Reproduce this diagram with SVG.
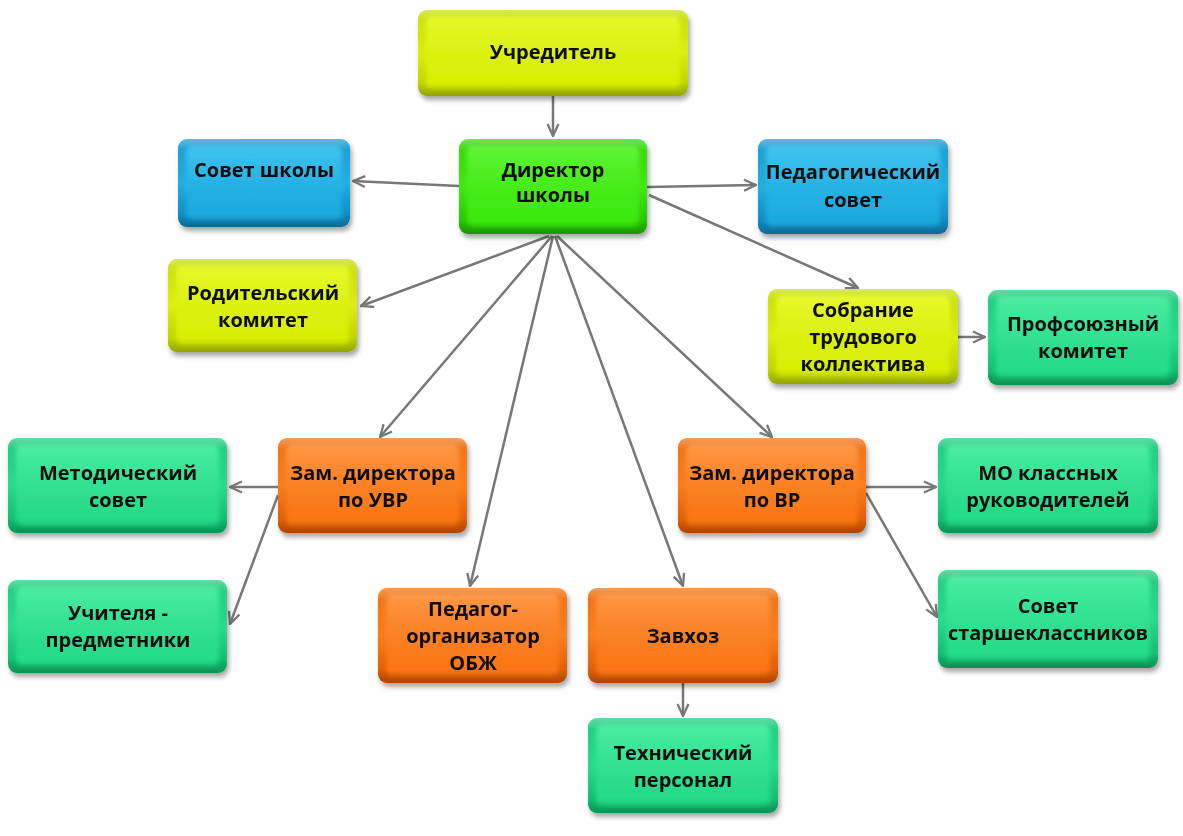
<svg xmlns="http://www.w3.org/2000/svg" width="1183" height="836" viewBox="0 0 1183 836">
<style>
.t{font-family:"Open Sans","Liberation Sans",sans-serif;font-weight:700;font-size:20px;fill:#111;text-anchor:middle}
.c line{stroke:#777;stroke-width:2.5;fill:none;marker-end:url(#ah)}
.hl{fill:url(#hl)}
.f{filter:url(#soft)}
</style>
<defs>
<marker id="ah" viewBox="0 0 14 14" refX="13" refY="7" markerWidth="14" markerHeight="14" markerUnits="userSpaceOnUse" orient="auto">
<path d="M1,1.5 L13,7 L1,12.5" fill="none" stroke="#777" stroke-width="2.3"/>
</marker>
<filter id="sh" x="-10%" y="-10%" width="125%" height="130%">
<feDropShadow dx="2" dy="4" stdDeviation="2.5" flood-color="#000" flood-opacity="0.35"/>
</filter>
<filter id="soft" x="-5%" y="-5%" width="110%" height="110%">
<feGaussianBlur stdDeviation="2"/>
</filter>
<linearGradient id="hl" x1="0" y1="0" x2="0" y2="1">
<stop offset="0" stop-color="#fff" stop-opacity="0.35"/>
<stop offset="0.12" stop-color="#fff" stop-opacity="0.05"/>
<stop offset="0.85" stop-color="#000" stop-opacity="0"/>
<stop offset="1" stop-color="#000" stop-opacity="0.18"/>
</linearGradient>
<linearGradient id="yel" x1="0" y1="0" x2="0" y2="1"><stop offset="0" stop-color="#c4dc00"/><stop offset="0.5" stop-color="#dcf20a"/><stop offset="1" stop-color="#b2c800"/></linearGradient>
<linearGradient id="yelI" x1="0" y1="0" x2="0" y2="1"><stop offset="0" stop-color="#e6fa20"/><stop offset="1" stop-color="#d6ee00"/></linearGradient>
<linearGradient id="grn" x1="0" y1="0" x2="0" y2="1"><stop offset="0" stop-color="#2ad400"/><stop offset="0.5" stop-color="#40ec10"/><stop offset="1" stop-color="#1cb800"/></linearGradient>
<linearGradient id="grnI" x1="0" y1="0" x2="0" y2="1"><stop offset="0" stop-color="#55f52a"/><stop offset="1" stop-color="#38e80a"/></linearGradient>
<linearGradient id="blu" x1="0" y1="0" x2="0" y2="1"><stop offset="0" stop-color="#1096cc"/><stop offset="0.5" stop-color="#20b0e4"/><stop offset="1" stop-color="#0a80b8"/></linearGradient>
<linearGradient id="bluI" x1="0" y1="0" x2="0" y2="1"><stop offset="0" stop-color="#34c0ee"/><stop offset="1" stop-color="#1aa8de"/></linearGradient>
<linearGradient id="org" x1="0" y1="0" x2="0" y2="1"><stop offset="0" stop-color="#ee6a08"/><stop offset="0.5" stop-color="#ff7e1a"/><stop offset="1" stop-color="#d45400"/></linearGradient>
<linearGradient id="orgI" x1="0" y1="0" x2="0" y2="1"><stop offset="0" stop-color="#ff9038"/><stop offset="1" stop-color="#fb7410"/></linearGradient>
<linearGradient id="tea" x1="0" y1="0" x2="0" y2="1"><stop offset="0" stop-color="#14c878"/><stop offset="0.5" stop-color="#28de8c"/><stop offset="1" stop-color="#0cb066"/></linearGradient>
<linearGradient id="teaI" x1="0" y1="0" x2="0" y2="1"><stop offset="0" stop-color="#40ec9e"/><stop offset="1" stop-color="#22da86"/></linearGradient>
</defs>
<rect width="1183" height="836" fill="#fff"/>

<g class="c" id="connectors">
<line x1="553" y1="96" x2="553" y2="136"/>
<line x1="459" y1="186" x2="353" y2="181"/>
<line x1="647" y1="187" x2="756" y2="185"/>
<line x1="549" y1="236" x2="361" y2="306"/>
<line x1="649" y1="195" x2="858" y2="288"/>
<line x1="552" y1="236" x2="380" y2="437"/>
<line x1="553" y1="236" x2="470" y2="586"/>
<line x1="555" y1="236" x2="683" y2="586"/>
<line x1="557" y1="236" x2="772" y2="437"/>
<line x1="958" y1="337" x2="985" y2="337"/>
<line x1="866" y1="487" x2="936" y2="487"/>
<line x1="866" y1="493" x2="937" y2="617"/>
<line x1="278" y1="487" x2="230" y2="487"/>
<line x1="278" y1="495" x2="230" y2="624"/>
<line x1="683" y1="683" x2="683" y2="716"/>
</g>

<g id="n-uchreditel" filter="url(#sh)"><rect x="418" y="10" width="270" height="86" rx="9" fill="url(#yel)"/><rect class="f" x="426" y="17" width="254" height="72" rx="6" fill="url(#yelI)"/><rect x="418" y="10" width="270" height="86" rx="9" class="hl"/><text class="t" x="553" y="59">Учредитель</text></g>

<g id="n-director" filter="url(#sh)"><rect x="459" y="139" width="188" height="95" rx="9" fill="url(#grn)"/><rect class="f" x="467" y="146" width="172" height="81" rx="6" fill="url(#grnI)"/><rect x="459" y="139" width="188" height="95" rx="9" class="hl"/><text class="t" x="553" y="177">Директор</text><text class="t" x="553" y="202">школы</text></g>

<g id="n-sovet-shkoly" filter="url(#sh)"><rect x="178" y="139" width="172" height="88" rx="9" fill="url(#blu)"/><rect class="f" x="186" y="146" width="156" height="74" rx="6" fill="url(#bluI)"/><rect x="178" y="139" width="172" height="88" rx="9" class="hl"/><text class="t" x="264" y="177">Совет школы</text></g>

<g id="n-ped-sovet" filter="url(#sh)"><rect x="758" y="139" width="190" height="95" rx="9" fill="url(#blu)"/><rect class="f" x="766" y="146" width="174" height="81" rx="6" fill="url(#bluI)"/><rect x="758" y="139" width="190" height="95" rx="9" class="hl"/><text class="t" x="853" y="179">Педагогический</text><text class="t" x="853" y="207">совет</text></g>

<g id="n-rod-komitet" filter="url(#sh)"><rect x="168" y="259" width="189" height="93" rx="9" fill="url(#yel)"/><rect class="f" x="176" y="266" width="173" height="79" rx="6" fill="url(#yelI)"/><rect x="168" y="259" width="189" height="93" rx="9" class="hl"/><text class="t" x="263" y="300">Родительский</text><text class="t" x="263" y="327">комитет</text></g>

<g id="n-sobranie" filter="url(#sh)"><rect x="768" y="289" width="190" height="95" rx="9" fill="url(#yel)"/><rect class="f" x="776" y="296" width="174" height="81" rx="6" fill="url(#yelI)"/><rect x="768" y="289" width="190" height="95" rx="9" class="hl"/><text class="t" x="863" y="317">Собрание</text><text class="t" x="863" y="344">трудового</text><text class="t" x="863" y="371">коллектива</text></g>

<g id="n-profsoyuz" filter="url(#sh)"><rect x="988" y="290" width="190" height="95" rx="9" fill="url(#tea)"/><rect class="f" x="996" y="297" width="174" height="81" rx="6" fill="url(#teaI)"/><rect x="988" y="290" width="190" height="95" rx="9" class="hl"/><text class="t" x="1083" y="331">Профсоюзный</text><text class="t" x="1083" y="358">комитет</text></g>

<g id="n-metod-sovet" filter="url(#sh)"><rect x="8" y="438" width="219" height="95" rx="9" fill="url(#tea)"/><rect class="f" x="16" y="445" width="203" height="81" rx="6" fill="url(#teaI)"/><rect x="8" y="438" width="219" height="95" rx="9" class="hl"/><text class="t" x="118" y="480">Методический</text><text class="t" x="118" y="507">совет</text></g>

<g id="n-zam-uvr" filter="url(#sh)"><rect x="278" y="438" width="189" height="95" rx="9" fill="url(#org)"/><rect class="f" x="286" y="445" width="173" height="81" rx="6" fill="url(#orgI)"/><rect x="278" y="438" width="189" height="95" rx="9" class="hl"/><text class="t" x="373" y="480">Зам. директора</text><text class="t" x="373" y="507">по УВР</text></g>

<g id="n-zam-vr" filter="url(#sh)"><rect x="678" y="438" width="188" height="95" rx="9" fill="url(#org)"/><rect class="f" x="686" y="445" width="172" height="81" rx="6" fill="url(#orgI)"/><rect x="678" y="438" width="188" height="95" rx="9" class="hl"/><text class="t" x="772" y="480">Зам. директора</text><text class="t" x="772" y="507">по ВР</text></g>

<g id="n-mo" filter="url(#sh)"><rect x="938" y="438" width="220" height="95" rx="9" fill="url(#tea)"/><rect class="f" x="946" y="445" width="204" height="81" rx="6" fill="url(#teaI)"/><rect x="938" y="438" width="220" height="95" rx="9" class="hl"/><text class="t" x="1048" y="480">МО классных</text><text class="t" x="1048" y="507">руководителей</text></g>

<g id="n-uchitelya" filter="url(#sh)"><rect x="8" y="580" width="219" height="93" rx="9" fill="url(#tea)"/><rect class="f" x="16" y="587" width="203" height="79" rx="6" fill="url(#teaI)"/><rect x="8" y="580" width="219" height="93" rx="9" class="hl"/><text class="t" x="118" y="620">Учителя -</text><text class="t" x="118" y="647">предметники</text></g>

<g id="n-obzh" filter="url(#sh)"><rect x="378" y="588" width="189" height="95" rx="9" fill="url(#org)"/><rect class="f" x="386" y="595" width="173" height="81" rx="6" fill="url(#orgI)"/><rect x="378" y="588" width="189" height="95" rx="9" class="hl"/><text class="t" x="473" y="616">Педагог-</text><text class="t" x="473" y="643">организатор</text><text class="t" x="473" y="670">ОБЖ</text></g>

<g id="n-zavhoz" filter="url(#sh)"><rect x="588" y="588" width="190" height="95" rx="9" fill="url(#org)"/><rect class="f" x="596" y="595" width="174" height="81" rx="6" fill="url(#orgI)"/><rect x="588" y="588" width="190" height="95" rx="9" class="hl"/><text class="t" x="683" y="643">Завхоз</text></g>

<g id="n-sovet-starsh" filter="url(#sh)"><rect x="938" y="570" width="220" height="98" rx="9" fill="url(#tea)"/><rect class="f" x="946" y="577" width="204" height="84" rx="6" fill="url(#teaI)"/><rect x="938" y="570" width="220" height="98" rx="9" class="hl"/><text class="t" x="1048" y="613">Совет</text><text class="t" x="1048" y="640">старшеклассников</text></g>

<g id="n-tech" filter="url(#sh)"><rect x="588" y="718" width="190" height="95" rx="9" fill="url(#tea)"/><rect class="f" x="596" y="725" width="174" height="81" rx="6" fill="url(#teaI)"/><rect x="588" y="718" width="190" height="95" rx="9" class="hl"/><text class="t" x="683" y="760">Технический</text><text class="t" x="683" y="787">персонал</text></g>
</svg>
